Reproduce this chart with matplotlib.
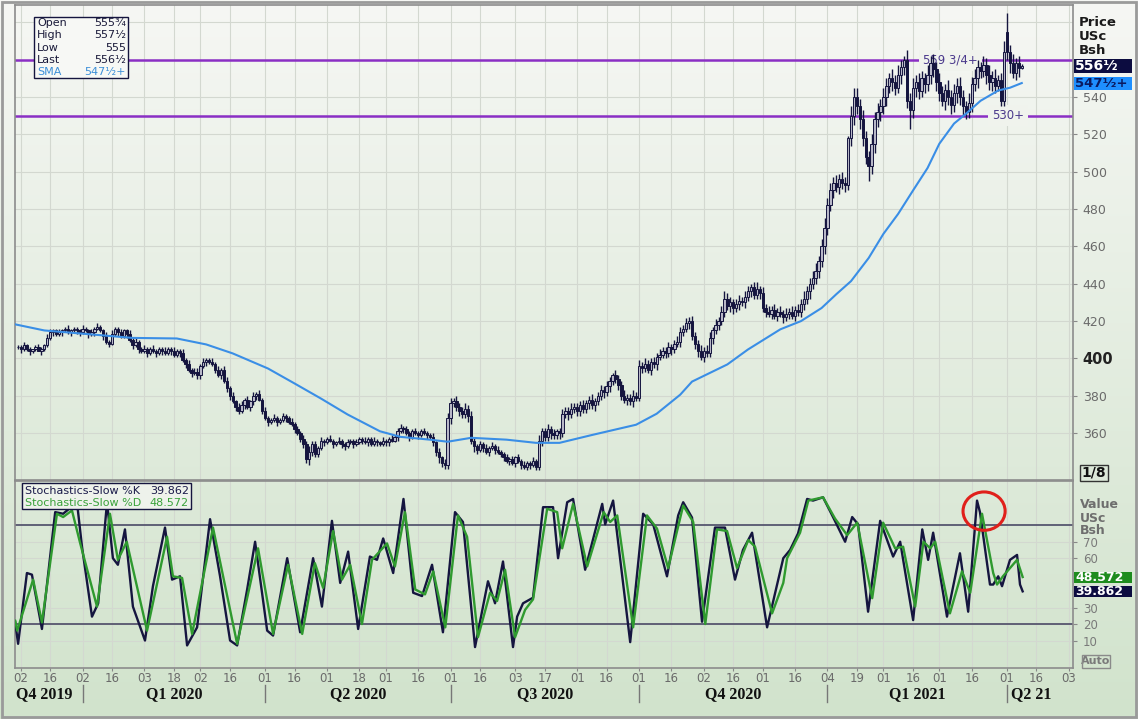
import numpy as np
import matplotlib
matplotlib.use('Agg')
import matplotlib.pyplot as plt
import matplotlib.transforms as mtrans
from matplotlib.patches import Rectangle, Ellipse
from matplotlib.colors import LinearSegmentedColormap

plt.rcParams['font.family'] = 'DejaVu Sans'
W, H = 1138, 719

# trading calendar (bar numbers counted from 2 Dec 2019)
start_day = '2019-12-02'
holidays = ['2019-11-28', '2019-12-25', '2020-01-01', '2020-01-20', '2020-02-17',
            '2020-04-10', '2020-05-25', '2020-07-03', '2020-09-07', '2020-11-26',
            '2020-12-25', '2021-01-01', '2021-01-18', '2021-02-15', '2021-04-02']
first_day = '2019-11-29'

tick_dates = ['2019-12-02', '2019-12-16', '2020-01-02', '2020-01-16', '2020-02-03',
              '2020-02-18', '2020-03-02', '2020-03-16', '2020-04-01', '2020-04-16',
              '2020-05-01', '2020-05-18', '2020-06-01', '2020-06-16', '2020-07-01',
              '2020-07-16', '2020-08-03', '2020-08-17', '2020-09-01', '2020-09-16',
              '2020-10-01', '2020-10-16', '2020-11-02', '2020-11-16', '2020-12-01',
              '2020-12-16', '2021-01-04', '2021-01-19', '2021-02-01', '2021-02-16',
              '2021-03-01', '2021-03-16', '2021-04-01', '2021-04-16', '2021-05-03']
quarter_starts = ['2020-01-02', '2020-04-01', '2020-07-01', '2020-10-01',
                  '2021-01-04', '2021-04-01']
quarter_names = ['Q4 2019', 'Q1 2020', 'Q2 2020', 'Q3 2020', 'Q4 2020', 'Q1 2021', 'Q2 21']

# daily closes, USc/bu, from 29 Nov 2019
closes = [406,
    405, 407, 405, 404, 405, 406, 404, 405, 407, 411,
    414, 415, 413, 414, 415, 416, 414, 415, 416, 415,
    414, 416, 415, 413, 414, 416, 417, 415, 412, 409,
    408, 413, 416, 414, 412, 415, 413, 410, 407, 409,
    405, 404, 405, 403, 405, 404, 403, 405, 404, 403,
    405, 404, 402, 404, 403, 399, 397, 394, 392, 393,
    391, 396, 398, 399, 398, 397, 394, 391, 394, 388,
    384, 380, 377, 374, 372, 375, 378, 374, 377, 380,
    381, 378, 372, 368, 366, 367, 368, 366, 367, 369,
    368, 366, 365, 362, 360, 357, 354, 346, 350, 354,
    349, 352, 356, 355, 357, 356, 354, 355, 356, 354,
    353, 355, 356, 354, 355, 357, 356, 355, 357, 354,
    356, 355, 354, 356, 355, 357, 356, 358, 361, 363,
    362, 360, 358, 361, 360, 359, 361, 360, 359, 358,
    355, 350, 347, 344, 343, 368, 376, 377, 374, 372,
    370, 373, 369, 356, 353, 351, 354, 352, 350, 352,
    353, 351, 350, 349, 347, 345, 346, 344, 347, 345,
    343, 342, 344, 343, 345, 342, 356, 361, 358, 362,
    360, 359, 361, 360, 370, 372, 370, 373, 374, 372,
    375, 373, 376, 378, 375, 377, 380, 383, 382, 385,
    388, 391, 389, 386, 380, 378, 379, 377, 380, 379,
    396, 395, 397, 394, 398, 397, 401, 402, 404, 403,
    406, 405, 408, 409, 414, 416, 419, 420, 412, 408,
    404, 401, 404, 403, 411, 415, 418, 420, 425, 432,
    428, 430, 427, 429, 431, 430, 433, 436, 438, 434,
    437, 435, 427, 425, 424, 426, 423, 425, 424, 422,
    424, 425, 423, 426, 425, 429, 432, 436, 440, 443,
    447, 452, 460, 470, 482, 490, 494, 492, 496, 494,
    493, 518, 530, 540, 535, 528, 518, 508, 503, 515,
    528, 532, 535, 540, 546, 550, 548, 545, 552, 556,
    560, 538, 533, 545, 548, 543, 550, 547, 552, 558,
    555, 548, 542, 538, 544, 540, 536, 542, 546, 540,
    535, 532, 537, 547, 550, 556, 554, 557, 552, 548,
    550, 546, 549, 538, 564, 564, 558, 553, 558, 555.75,
    556.5]
# daily range beyond the body, cents
hi_ext = [1,
    1, 2, 1, 1, 0, 1, 2, 1, 1, 2,
    2, 1, 1, 2, 1, 1, 2, 1, 1, 1,
    1, 2, 1, 1, 2, 1, 2, 1, 1, 2,
    1, 2, 1, 1, 2, 1, 1, 2, 1, 2,
    1, 1, 2, 1, 1, 2, 1, 1, 1, 2,
    1, 1, 2, 1, 1, 2, 1, 2, 1, 2,
    2, 1, 2, 1, 1, 2, 1, 2, 1, 2,
    2, 1, 2, 1, 2, 2, 1, 2, 1, 2,
    1, 2, 1, 2, 1, 1, 2, 1, 1, 2,
    1, 1, 2, 1, 2, 1, 2, 2, 3, 2,
    2, 1, 2, 1, 1, 2, 1, 1, 2, 1,
    1, 2, 1, 1, 2, 1, 1, 2, 1, 1,
    2, 1, 1, 2, 1, 1, 2, 1, 2, 2,
    1, 2, 1, 1, 2, 1, 1, 2, 1, 1,
    2, 1, 2, 1, 2, 3, 2, 2, 3, 2,
    2, 3, 2, 3, 2, 1, 2, 1, 2, 1,
    2, 1, 2, 1, 1, 2, 1, 2, 1, 2,
    1, 2, 1, 1, 2, 1, 3, 2, 2, 3,
    2, 2, 1, 2, 3, 2, 2, 3, 2, 2,
    2, 3, 2, 2, 3, 2, 2, 3, 2, 3,
    2, 2, 3, 2, 2, 3, 2, 2, 3, 2,
    3, 2, 3, 2, 2, 3, 2, 3, 2, 2,
    3, 2, 2, 3, 3, 2, 3, 2, 3, 2,
    2, 3, 2, 3, 3, 2, 3, 2, 3, 4,
    3, 3, 2, 3, 3, 2, 3, 3, 2, 3,
    3, 2, 3, 2, 3, 2, 3, 2, 3, 2,
    3, 2, 3, 2, 3, 3, 4, 3, 3, 4,
    4, 3, 4, 5, 4, 4, 3, 4, 3, 4,
    3, 3, 5, 4, 5, 4, 5, 4, 3, 5,
    4, 5, 4, 5, 4, 3, 5, 4, 5, 4,
    3, 5, 4, 5, 4, 5, 4, 3, 5, 4,
    5, 4, 5, 4, 3, 5, 4, 5, 4, 5,
    4, 3, 5, 4, 5, 4, 3, 5, 4, 5,
    4, 5, 3, 4, 6, 0, 4, 5, 3, 4,
    0]
lo_ext = [1,
    2, 1, 1, 2, 1, 1, 0, 2, 1, 1,
    1, 2, 1, 1, 2, 1, 1, 2, 1, 2,
    2, 1, 1, 2, 1, 2, 1, 1, 2, 1,
    2, 1, 1, 2, 1, 1, 2, 1, 2, 1,
    2, 1, 1, 2, 1, 1, 2, 1, 2, 1,
    1, 2, 1, 1, 2, 1, 2, 1, 2, 1,
    0, 2, 1, 2, 1, 1, 2, 1, 2, 1,
    2, 2, 1, 2, 2, 1, 2, 1, 2, 2,
    2, 1, 2, 1, 2, 1, 1, 2, 1, 1,
    2, 1, 1, 2, 1, 2, 2, 0, 3, 2,
    2, 2, 1, 2, 1, 1, 2, 1, 1, 2,
    2, 1, 1, 2, 1, 1, 2, 1, 2, 1,
    1, 2, 1, 1, 2, 2, 1, 1, 2, 1,
    2, 1, 2, 1, 1, 2, 1, 1, 2, 1,
    2, 2, 3, 2, 0, 2, 3, 2, 2, 3,
    2, 2, 3, 2, 3, 2, 1, 2, 1, 2,
    1, 2, 1, 2, 2, 1, 2, 1, 2, 1,
    2, 1, 2, 2, 1, 2, 2, 3, 2, 2,
    3, 2, 2, 3, 2, 2, 3, 2, 2, 3,
    3, 2, 2, 3, 2, 3, 2, 2, 3, 2,
    3, 2, 2, 3, 2, 2, 3, 2, 3, 2,
    2, 3, 2, 2, 3, 2, 3, 2, 2, 3,
    2, 3, 2, 2, 3, 2, 2, 3, 2, 3,
    3, 2, 3, 2, 2, 3, 2, 3, 2, 3,
    2, 3, 3, 2, 3, 2, 3, 2, 3, 2,
    2, 3, 2, 3, 2, 3, 2, 3, 2, 3,
    2, 3, 2, 3, 2, 3, 3, 3, 4, 3,
    3, 4, 3, 4, 4, 3, 4, 3, 4, 3,
    4, 3, 4, 5, 4, 5, 4, 4, 0, 4,
    5, 4, 5, 4, 5, 4, 5, 4, 3, 5,
    4, 4, 0, 4, 5, 4, 3, 5, 4, 5,
    4, 5, 4, 3, 5, 4, 5, 4, 5, 4,
    5, 4, 3, 5, 4, 5, 4, 3, 5, 4,
    5, 4, 3, 0, 3, 4, 5, 3, 4, 5,
    0]
gap_open = {335: 575}
wick_hi = {146: 379, 201: 392, 226: 421.5, 250: 441, 281: 519, 283: 545,
           300: 562, 325: 560, 335: 585, 340: 557.5}
wick_lo = {60: 389, 97: 344, 144: 341, 288: 495, 302: 523, 333: 535, 340: 555}

sma_day = [-2, 8, 23, 38, 53, 63, 72, 84, 93, 102, 111, 122, 129, 139, 145, 153, 165,
           175, 183, 194, 209, 216, 224, 228, 240, 247, 258, 265, 272, 277, 282, 288,
           293, 298, 303, 308, 312, 317, 321, 326, 332, 336, 340]
sma_val = [418.3, 415, 413, 411, 410.7, 407.5, 402.7, 394.6, 386.6, 378.5, 370, 361,
           358, 356.5, 355.4, 357.5, 356.5, 354.8, 354.8, 359, 364.5, 370.4, 380.6,
           387.6, 396.8, 404.8, 415.6, 420, 427, 434.4, 441.4, 453.8, 466.7, 477.4,
           489.8, 502, 515, 525.8, 531, 538, 543.5, 545, 547.5]

support_levels = [559.75, 530]
support_labels = ['559 3/4+', '530+']

# Stochastics-Slow turning points
k_day = [-1.9, -0.9, 2.1, 3.8, 7.2, 11.7, 14.4, 19.1, 20.8, 24.2, 26.3, 29.3, 31.3, 33,
         35.4, 38.1, 42.2, 44.9, 49, 51.4, 54.1, 56.5, 59.9, 64.3, 67.7, 71.1, 73.5,
         76.9, 79.6, 83.7, 85.7, 90.5, 94.9, 99.3, 102.3, 105.7, 108.5, 111.2, 114.6,
         118.6, 121, 123.1, 126.5, 130, 133.3, 136.3, 139.7, 143.4, 147.5, 150.2,
         154.3, 158.7, 161.1, 163.8, 167.2, 168.6, 170.6, 174, 177.4, 180.8, 182.5,
         185.6, 187.6, 191.7, 197.5, 198.5, 201.2, 207, 211.4, 214.8, 219.5, 223.3,
         225, 228, 231.4, 235.8, 239.2, 242.6, 245.3, 248.4, 253.5, 256.9, 259, 261.3,
         264, 267.1, 269.1, 272.5, 275.9, 280, 282.4, 284.4, 287.8, 291.9, 296.3,
         298.7, 303.1, 306.2, 308.2, 309.9, 314.6, 319, 321.8, 324.8, 325.8, 329.2,
         330.3, 332, 333.3, 336, 338.4, 339.4, 340.3]
k_val = [21.4, 8, 51, 50, 17, 88, 87, 94, 67, 24.5, 32.6, 94, 60, 56,
         77.5, 30.6, 10, 43, 78.6, 47, 49, 7, 18, 83.7, 49, 10, 7,
         41, 70, 16, 13, 60, 15, 60, 30.6, 82.7, 45, 64, 17,
         61, 59, 72, 51, 96, 39, 37, 56, 15, 88, 82,
         6, 46, 32.6, 58, 6, 24.5, 32.6, 36, 91, 91, 60,
         94, 96, 53, 93, 80.6, 95, 9, 87, 80.6, 49, 86,
         94, 84.7, 21.4, 78.6, 78.6, 47, 65, 75.5, 18, 44, 60, 65,
         75, 96, 95, 97, 85, 70, 85, 80.6, 27.5, 82.7, 61,
         70, 22.4, 77.5, 59, 75.5, 24.5, 63, 27.5, 95, 88, 44,
         44, 49, 43, 59, 62, 44, 39.862]
d_day = [-1.9, -1.2, 4.2, 7.2, 12.3, 14.4, 17.4, 20.2, 25.9, 30.3, 33, 36, 42.9, 49.7,
         51.7, 54.8, 58.2, 65.3, 73.5, 80.6, 85.7, 90.8, 95.6, 99.9, 102.7, 106.1,
         109.1, 111.9, 115.9, 119.3, 124.4, 127.1, 130.5, 134, 137.3, 140.1, 144.2,
         148.5, 151.6, 155.3, 159.4, 161.8, 164.5, 167.9, 171.3, 174, 178.8, 182.2,
         183.9, 187.6, 192.4, 198, 200.2, 202.6, 208, 212.7, 216.1, 219.9, 225, 228.4,
         232.5, 236.5, 239.9, 243.3, 247.1, 249.4, 255.2, 259, 260.3, 264.7, 267.5,
         272.5, 276.6, 280.7, 284.1, 289.2, 292.9, 297, 299.7, 303.8, 306.6, 308.9,
         310.6, 315.6, 319.7, 322.5, 326.5, 330.3, 331.6, 333.6, 338.4, 340.3]
d_val = [22, 16, 47, 21, 87, 85, 89, 69, 30.6, 87, 59, 70, 16, 73,
         49, 48, 14, 78.6, 8, 66, 14, 56, 14, 57, 42, 76.5,
         47, 56, 20, 59, 69, 55, 88, 41, 38, 52, 18,
         86, 73, 12, 39, 34, 53, 12, 28.6, 35, 90, 88,
         66, 93, 55, 88, 82, 86, 18, 86, 78, 54, 92, 82,
         20, 77.5, 76.5, 54, 71, 67, 26.5, 45, 60, 75.5, 95,
         97, 84, 74, 81.6, 35.7, 81.6, 66, 67, 30.6, 70, 66,
         70, 26.5, 52, 39, 87, 51, 44, 49, 59, 48.572]


def bar_no(d):
    return int(np.busday_count(start_day, d, holidays=holidays))


def frac(v):
    whole = int(v)
    part = {0.25: '¹⁄₄', 0.5: '¹⁄₂', 0.75: '³⁄₄'}.get(round(v - whole, 2), '')
    return '%d%s' % (whole, part)


def px_x(x):
    return x / W


def px_y(y):
    return 1 - y / H


navy = '#15153f'
green = '#2f9a2f'
blue = '#3a8ee6'
purple = '#8a2fc4'
gridc = '#d3d8d0'
spinec = '#8c8c8c'

closes = np.array(closes, dtype=float)
bars = np.arange(len(closes)) + bar_no(first_day)
opens = np.r_[closes[0], closes[:-1]]
for k, v in gap_open.items():
    opens[k - bars[0]] = v
highs = np.maximum(opens, closes) + np.array(hi_ext)
lows = np.minimum(opens, closes) - np.array(lo_ext)
for k, v in wick_hi.items():
    highs[k - bars[0]] = v
for k, v in wick_lo.items():
    lows[k - bars[0]] = v
up = closes >= opens

tick_pos = [bar_no(d) for d in tick_dates]
tick_lab = [d[-2:] for d in tick_dates]
q_pos = [bar_no(d) for d in quarter_starts]

fig = plt.figure(figsize=(W / 100, H / 100), dpi=100)
bg = fig.add_axes([0, 0, 1, 1], zorder=-10)
bg.imshow(np.linspace(0, 1, 256).reshape(-1, 1), aspect='auto', origin='upper',
          extent=[0, 1, 0, 1], cmap=LinearSegmentedColormap.from_list('bg', ['#f6f7f4', '#d1e3cc']))
bg.set_axis_off()

ax = fig.add_axes([px_x(15), px_y(480), 1058 / W, 475 / H])
sx = fig.add_axes([px_x(15), px_y(668), 1058 / W, 187 / H], sharex=ax)
for a in (ax, sx):
    a.set_facecolor('none')
    for s in a.spines.values():
        s.set_color(spinec)
        s.set_linewidth(1.2)
    a.grid(True, color=gridc, lw=0.8, zorder=0)
    a.set_axisbelow(True)

# price panel
ax.set_xlim(-1.95, 357.4)
ax.set_ylim(334.9, 589.3)
for lv in (560, 580):
    ax.axhline(lv, color=gridc, lw=0.8, zorder=0)
for lv, lab, pos in zip(support_levels, support_labels, [315.7, 335.4]):
    ax.axhline(lv, color=purple, lw=1.8, zorder=2)
    ax.text(pos, lv, lab, color='#4b3a8c', fontsize=8.5, ha='center', va='center', zorder=2.5,
            bbox=dict(boxstyle='square,pad=0.35', fc='#f0f3ed', ec='none'))
ax.vlines(bars, lows, highs, color=navy, lw=1.0, zorder=3)
ax.bar(bars, closes - opens, bottom=opens, width=0.8,
       color=np.where(up, '#b8b8c8', navy), edgecolor=navy, lw=0.7, zorder=3)
ax.plot(sma_day, sma_val, color=blue, lw=1.5, zorder=4)

ax.yaxis.tick_right()
ax.set_yticks(range(360, 541, 20))
ax.tick_params(axis='y', labelsize=9, labelcolor='#6a6a6a', color='#888', length=3, pad=4)
ax.tick_params(axis='x', length=0, labelbottom=False)
for t in ax.get_yticklabels():
    if t.get_text() == '400':
        t.set_fontweight('bold')
        t.set_fontsize(10.5)
        t.set_color('#222222')

# stochastics panel
sx.set_ylim(-6.7, 106.9)
sx.axhline(80, color='#56566e', lw=1.3, zorder=1)
sx.axhline(20, color='#56566e', lw=1.3, zorder=1)
sx.plot(k_day, k_val, color=navy, lw=1.7, zorder=3)
sx.plot(d_day, d_val, color=green, lw=1.7, zorder=4)
sx.add_patch(Ellipse((327.2, 88.6), 14.3, 23.3, fill=False, ec='#e0201b', lw=2.2, zorder=5))
sx.yaxis.tick_right()
sx.set_yticks([10, 20, 30, 60, 70])
sx.tick_params(axis='y', labelsize=8.5, labelcolor='#7a7a7a', color='#888', length=3, pad=4)
sx.set_xticks(tick_pos)
sx.set_xticklabels(tick_lab)
sx.tick_params(axis='x', labelsize=8.5, labelcolor='#6a6a6a', color='#888', length=2, pad=1)

# quarter labels and separators
tr = mtrans.blended_transform_factory(sx.transData, fig.transFigure)
for p in q_pos:
    fig.add_artist(plt.Line2D([p, p], [px_y(685), px_y(702)], transform=tr, color='#777', lw=1))
q_edges = [-1.95] + q_pos
for i, name in enumerate(quarter_names):
    if i == 0:
        x, ha = -1.6, 'left'
    elif i == len(quarter_names) - 1:
        x, ha = q_pos[-1] + 1.5, 'left'
    else:
        x, ha = (q_edges[i] + q_edges[i + 1]) / 2, 'center'
    fig.text(x, px_y(694), name, transform=tr, ha=ha, va='center', fontsize=11.5,
             fontweight='bold', family='Liberation Serif', color='#111111')


# value boxes on the right scale
def value_box(a, val, text, fc, tc, hpx, fs):
    y0, y1 = a.get_ylim()
    hp = a.get_position().height * H
    hd = hpx * (y1 - y0) / hp
    trb = mtrans.blended_transform_factory(fig.transFigure, a.transData)
    r = Rectangle((px_x(1074), val - hd / 2), 58 / W, hd, transform=trb, fc=fc, ec='none',
                  clip_on=False, zorder=6)
    fig.add_artist(r)
    fig.text(px_x(1075), val, text, transform=trb, color=tc, fontsize=fs, fontweight='bold',
             va='center', ha='left', zorder=7)


# right side headers
for y, s in zip([22, 37, 51], ['Price', 'USc', 'Bsh']):
    fig.text(px_x(1079), px_y(y), s, fontsize=9.5, fontweight='bold', color='#1a1a1a', va='center')
for y, s in zip([504, 518, 531], ['Value', 'USc', 'Bsh']):
    fig.text(px_x(1080), px_y(y), s, fontsize=9, fontweight='bold', color='#6e6e6e', va='center')

value_box(ax, closes[-1], frac(closes[-1]), '#0c0c40', 'white', 14, 10)
value_box(ax, sma_val[-1], frac(sma_val[-1]) + '+', '#1e8fff', '#0a1a60', 13, 9.5)
value_box(sx, d_val[-1], '%.3f' % d_val[-1], '#1e8c1e', 'white', 11, 9)
value_box(sx, k_val[-1], '%.3f' % k_val[-1], '#0c0c40', 'white', 11, 9)

# small boxes
fig.add_artist(Rectangle((px_x(1080), px_y(481)), 28 / W, 16 / H, transform=fig.transFigure,
                         fill=False, ec='#333', lw=1, zorder=6))
fig.text(px_x(1094), px_y(473), '1/8', fontsize=10, fontweight='bold', color='#111',
         ha='center', va='center')
fig.add_artist(Rectangle((px_x(1082), px_y(668)), 28 / W, 13 / H, transform=fig.transFigure,
                         fill=False, ec='#8a8a8a', lw=1, zorder=6))
fig.text(px_x(1096), px_y(661.5), 'Auto', fontsize=8, fontweight='bold', color='#7a7a7a',
         ha='center', va='center')

# legends
fig.add_artist(Rectangle((px_x(34), px_y(78)), 94 / W, 61 / H, transform=fig.transFigure,
                         fc='#f7f8f5', ec=navy, lw=1, zorder=6))
rows = [('Open', frac(opens[-1])), ('High', frac(highs[-1])), ('Low', frac(lows[-1])),
        ('Last', frac(closes[-1])), ('SMA', frac(sma_val[-1]) + '+')]
for i, (lab, val) in enumerate(rows):
    c = '#3c8fd8' if lab == 'SMA' else '#1a1a3a'
    y = px_y(23 + 12.3 * i)
    fig.text(px_x(37), y, lab, fontsize=8, color=c, va='center', zorder=7)
    fig.text(px_x(126), y, val, fontsize=8, color=c, va='center', ha='right', zorder=7)

fig.add_artist(Rectangle((px_x(22), px_y(509)), 169 / W, 26 / H, transform=fig.transFigure,
                         fc='#eef2eb', ec=navy, lw=1, zorder=6))
for y, lab, val, c in [(491, 'Stochastics-Slow %K', k_val[-1], '#1a1a4a'),
                       (503, 'Stochastics-Slow %D', d_val[-1], '#3aa23a')]:
    fig.text(px_x(25), px_y(y), lab, fontsize=8, color=c, va='center', zorder=7)
    fig.text(px_x(189), px_y(y), '%.3f' % val, fontsize=8, color=c, va='center', ha='right', zorder=7)

# outer frame
fig.add_artist(Rectangle((px_x(2), px_y(717)), 1134 / W, 715 / H, transform=fig.transFigure,
                         fill=False, ec='#9a9a9a', lw=2, zorder=8))

fig.savefig('out.png', dpi=100)
